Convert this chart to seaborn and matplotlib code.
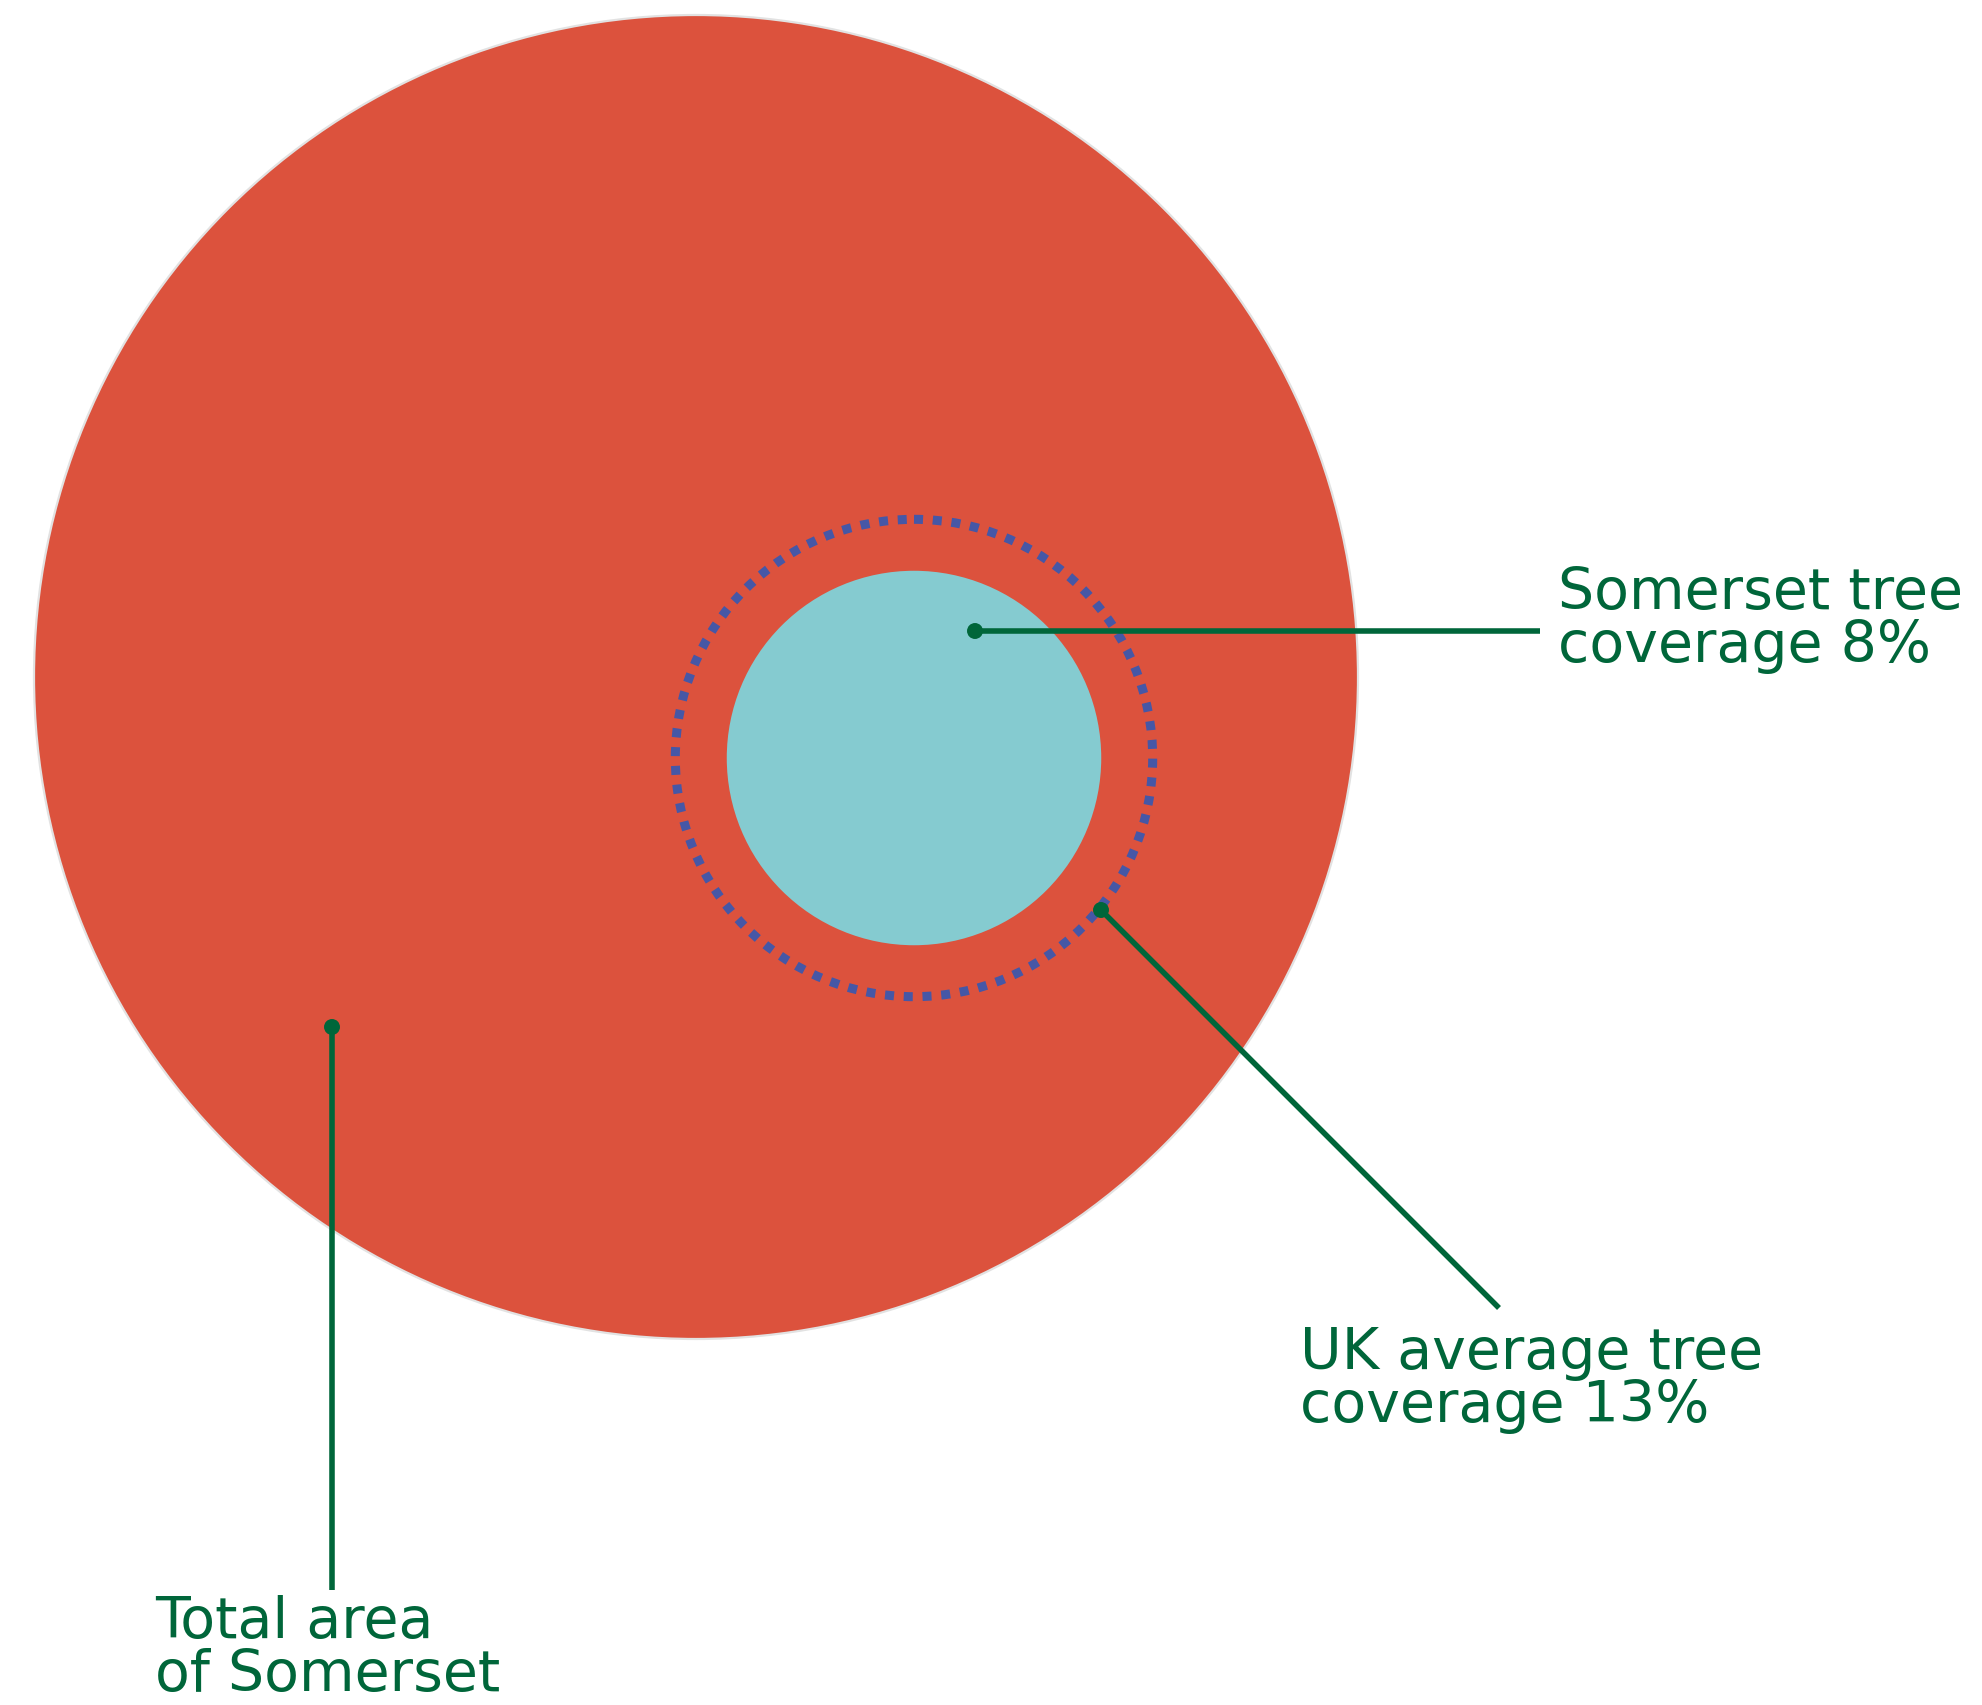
import numpy as np
import pandas as pd
import matplotlib
matplotlib.use("Agg")
import matplotlib.pyplot as plt
from matplotlib.patches import Circle
import seaborn as sns

# ---- data ----
categories = ["Total area of Somerset", "UK average tree coverage", "Somerset tree coverage"]
coverage_pct = [100, 13, 8]
labels = ["Total area\nof Somerset",
          "UK average tree\ncoverage 13%",
          "Somerset tree\ncoverage 8%"]

# ---- layout (pixels, figure coords with y down) ----
W, H = 1982, 1705
big_center = (696, 677)
big_radius = 662
inner_center = (914, 758)

red = "#DC523D"
teal = "#85CBD0"
blue = "#4657A6"
green = "#00663A"

sns.set_theme(style="white")
plt.rcParams['font.family'] = ['DejaVu Sans']

fig = plt.figure(figsize=(W / 100, H / 100), dpi=100)
ax = fig.add_axes([0, 0, 1, 1])

radii = {c: big_radius * np.sqrt(p / 100.0) for c, p in zip(categories, coverage_pct)}

# total area
ax.add_patch(Circle(big_center, radii[categories[0]], facecolor=red,
                    edgecolor="#E2E2E2", linewidth=1.6, zorder=1))
# Somerset tree coverage
ax.add_patch(Circle(inner_center, radii[categories[2]], facecolor=teal,
                    edgecolor="none", zorder=2))
# UK average (dotted)
ax.add_patch(Circle(inner_center, radii[categories[1]], fill=False,
                    edgecolor=blue, linewidth=6.5, linestyle=(0, (1.0, 1.08)),
                    zorder=3))

# leader lines: (dot point, end point, last-line text baseline position)
leaders = {
    categories[0]: ((332, 1027), (332, 1590), (155, 1691)),
    categories[1]: ((1101, 910), (1499, 1308), (1300, 1422)),
    categories[2]: ((975, 631), (1540, 631), (1558, 662)),
}

dots = []
for cat, label in zip(categories, labels):
    (x0, y0), (x1, y1), (tx, ty) = leaders[cat]
    ax.plot([x0, x1], [y0, y1], color=green, linewidth=4.0,
            solid_capstyle="butt", zorder=4)
    dots.append({"x": x0, "y": y0, "cat": cat})
    ax.text(tx, ty, label, color=green, fontsize=41, linespacing=0.95,
            ha="left", va="baseline", zorder=5)

df = pd.DataFrame(dots)
sns.scatterplot(data=df, x="x", y="y", color=green, s=132, edgecolor="none",
                ax=ax, zorder=6, legend=False)
ax.set_xlim(0, W)
ax.set_ylim(H, 0)
ax.set_axis_off()

fig.savefig("out.png", dpi=100, facecolor="white")
